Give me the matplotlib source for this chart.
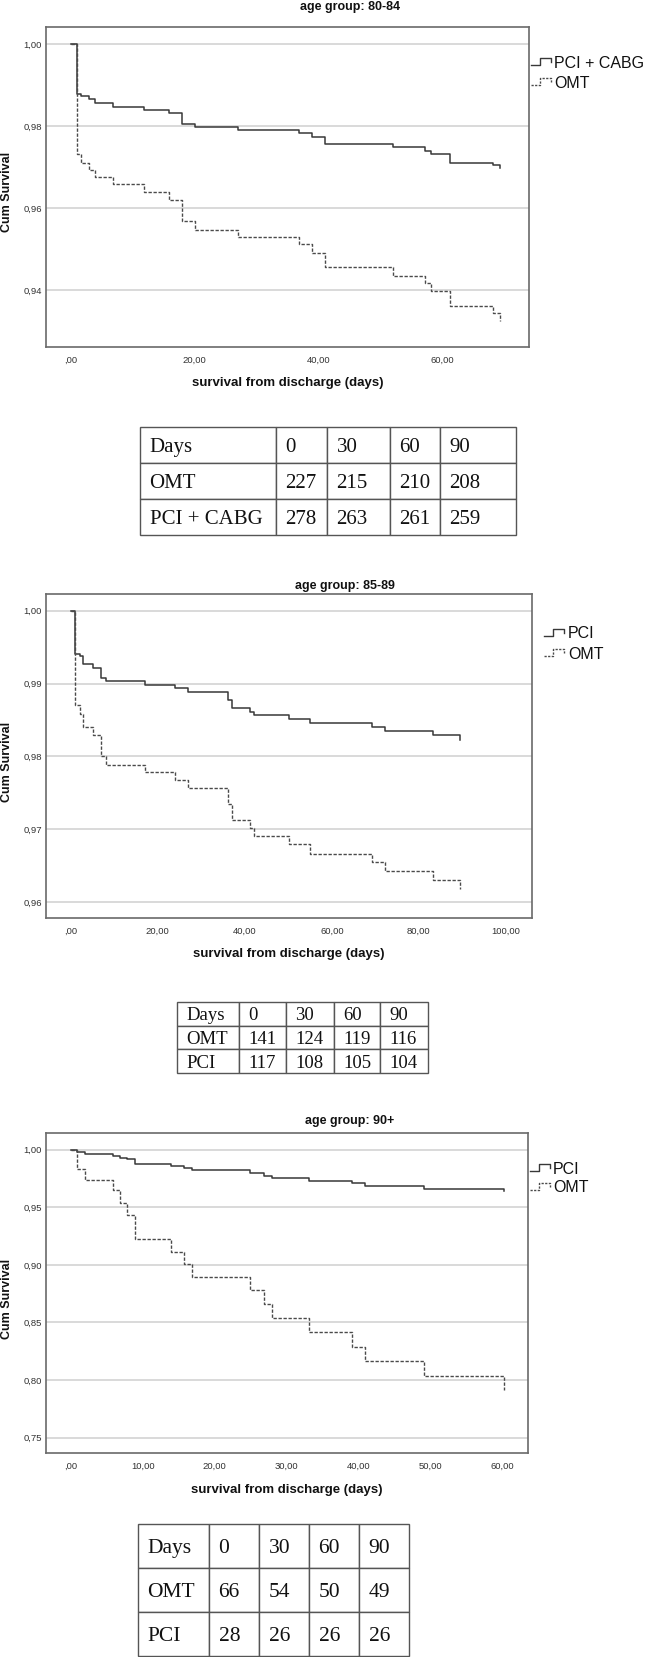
import numpy as np
import matplotlib
matplotlib.use("Agg")
import matplotlib.pyplot as plt
from matplotlib.lines import Line2D

W, H = 646, 1657

# ---- panel 1: age group 80-84 ----
p1_days = [0, 1.0, 1.7, 3.0, 3.9, 6.9, 11.9, 15.9, 17.9, 20.0, 27.0, 36.9, 38.9,
           41.1, 52.1, 57.2, 58.2, 61.2, 68.2, 69.3]
p1_pci = [1.0, 0.9879, 0.9872, 0.9865, 0.9855, 0.9847, 0.9840, 0.9831, 0.9806,
          0.9798, 0.9790, 0.9782, 0.9773, 0.9756, 0.9749, 0.9740, 0.9732, 0.9711,
          0.9705, 0.9697]
p1_omt = [1.0, 0.9731, 0.9711, 0.9694, 0.9676, 0.9659, 0.9640, 0.9621, 0.9569,
          0.9548, 0.9530, 0.9512, 0.9492, 0.9456, 0.9436, 0.9417, 0.9399, 0.9362,
          0.9344, 0.9325]

# ---- panel 2: age group 85-89 ----
p2_days = [0, 1.0, 2.0, 2.9, 5.0, 7.0, 8.1, 17.0, 24.0, 27.0, 36.2, 37.0, 41.2,
           42.1, 50.1, 55.0, 69.3, 72.3, 83.3, 89.4]
p2_pci = [1.0, 0.9941, 0.9938, 0.9927, 0.9921, 0.9908, 0.9903, 0.9898, 0.9894,
          0.9888, 0.9878, 0.9867, 0.9861, 0.9857, 0.9851, 0.9846, 0.9840, 0.9835,
          0.9829, 0.9823]
p2_omt = [1.0, 0.9870, 0.9858, 0.9840, 0.9830, 0.9800, 0.9788, 0.9778, 0.9767,
          0.9757, 0.9734, 0.9713, 0.9702, 0.9691, 0.9679, 0.9666, 0.9655, 0.9642,
          0.9630, 0.9618]

# ---- panel 3: age group 90+ ----
p3_days = [0, 0.9, 2.0, 5.9, 6.8, 7.8, 8.9, 13.9, 15.8, 16.8, 24.9, 26.9, 27.9,
           33.1, 39.1, 40.9, 49.1, 60.1]
p3_pci = [1.0, 0.9979, 0.9960, 0.9945, 0.9931, 0.9916, 0.9878, 0.9855, 0.9841,
          0.9821, 0.9797, 0.9775, 0.9754, 0.9728, 0.9710, 0.9683, 0.9660, 0.9645]
p3_omt = [1.0, 0.9829, 0.9740, 0.9647, 0.9540, 0.9436, 0.9222, 0.9112, 0.9005,
          0.8895, 0.8779, 0.8663, 0.8539, 0.8414, 0.8287, 0.8166, 0.8035, 0.7911]

# ---- numbers at risk tables ----
risk_header = ["Days", "0", "30", "60", "90"]
t1_omt = [227, 215, 210, 208]
t1_pci = [278, 263, 261, 259]
t2_omt = [141, 124, 119, 116]
t2_pci = [117, 108, 105, 104]
t3_omt = [66, 54, 50, 49]
t3_pci = [28, 26, 26, 26]

titles = ["age group: 80-84", "age group: 85-89", "age group: 90+"]
pci_names = ["PCI + CABG", "PCI", "PCI"]

SANS = "Liberation Sans"
SERIF = "Liberation Serif"
LINE_C = "#383838"


def fmt(v, pos=None):
    s = f"{v:.2f}".replace(".", ",")
    if abs(v) < 1e-9:
        s = ",00"
    return s


def fig_rect(left, top, right, bottom):
    return [left / W, 1 - bottom / H, (right - left) / W, (bottom - top) / H]


def draw_panel(fig, box, xlim, ylim, xticks, yticks, days, pci, omt):
    ax = fig.add_axes(fig_rect(*box))
    ax.step(days, pci, where="post", color=LINE_C, lw=1.1, zorder=3)
    ax.step(days, omt, where="post", color="#4a4a4a", lw=1.0,
            dashes=(2.4, 1.2), zorder=3)
    ax.set_xlim(*xlim)
    ax.set_ylim(*ylim)
    ax.set_xticks(xticks)
    ax.set_yticks(yticks)
    ax.xaxis.set_major_formatter(plt.FuncFormatter(fmt))
    ax.yaxis.set_major_formatter(plt.FuncFormatter(fmt))
    ax.tick_params(length=0, labelsize=6.8, labelcolor="#333333")
    ax.tick_params(axis="x", pad=6)
    ax.tick_params(axis="y", pad=3)
    for lab in ax.get_xticklabels() + ax.get_yticklabels():
        lab.set_fontfamily(SANS)
    ax.grid(axis="y", color="#cfcfcf", lw=1.1)
    ax.set_axisbelow(True)
    for sp in ax.spines.values():
        sp.set_color("#6a6a6a")
        sp.set_linewidth(1.2)
    return ax


def legend_glyph(fig, x0, yc, dashed):
    xs = [x0, x0 + 9, x0 + 9, x0 + 20, x0 + 20]
    ys = [yc + 1.5, yc + 1.5, yc - 5.5, yc - 5.5, yc - 1]
    kw = dict(color=LINE_C, lw=1.0)
    if dashed:
        kw.update(color="#4a4a4a", dashes=(1.6, 1.0))
    fig.add_artist(Line2D([x / W for x in xs], [1 - y / H for y in ys],
                          transform=fig.transFigure, **kw))


def draw_table(fig, cols, top, bottom, omt, pci, pci_label, fontsize):
    left, right = cols[0], cols[-1]
    ax = fig.add_axes(fig_rect(left, top, right, bottom))
    ax.axis("off")
    widths = np.diff(cols)
    rows = [risk_header,
            ["OMT"] + [str(v) for v in omt],
            [pci_label] + [str(v) for v in pci]]
    tbl = ax.table(cellText=rows, colWidths=list(widths / widths.sum()),
                   bbox=[0, 0, 1, 1], cellLoc="left")
    tbl.auto_set_font_size(False)
    for (r, c), cell in tbl.get_celld().items():
        cell.set_edgecolor("#555555")
        cell.set_linewidth(1.0)
        cell.PAD = 9.5 / widths[c]
        txt = cell.get_text()
        txt.set_fontsize(fontsize)
        txt.set_fontfamily(SERIF)
        txt.set_color("#111111")
        txt.set_va("center_baseline")
    return ax


fig = plt.figure(figsize=(W / 100, H / 100), dpi=100)

panels = [
    dict(box=(46, 27, 529, 347), xlim=(-4.0, 74.0), ylim=(0.9262, 1.0041),
         xticks=[0, 20, 40, 60], yticks=[0.94, 0.96, 0.98, 1.00],
         days=p1_days, pci=p1_pci, omt=p1_omt,
         title_xy=(350, 7), xlabel_xy=(288, 383), ylabel_y=192,
         leg=(531, 554, 63, 83)),
    dict(box=(46, 594, 532, 918), xlim=(-5.7, 106.0), ylim=(0.9578, 1.0023),
         xticks=[0, 20, 40, 60, 80, 100], yticks=[0.96, 0.97, 0.98, 0.99, 1.00],
         days=p2_days, pci=p2_pci, omt=p2_omt,
         title_xy=(345, 586), xlabel_xy=(289, 954), ylabel_y=762,
         leg=(544, 568, 634, 654)),
    dict(box=(46, 1133, 528, 1453), xlim=(-3.43, 63.5), ylim=(0.7367, 1.0145),
         xticks=[0, 10, 20, 30, 40, 50, 60],
         yticks=[0.75, 0.80, 0.85, 0.90, 0.95, 1.00],
         days=p3_days, pci=p3_pci, omt=p3_omt,
         title_xy=(350, 1121), xlabel_xy=(287, 1490), ylabel_y=1299,
         leg=(530, 553, 1169, 1188)),
]

for i, p in enumerate(panels):
    draw_panel(fig, p["box"], p["xlim"], p["ylim"], p["xticks"], p["yticks"],
               p["days"], p["pci"], p["omt"])
    tx, ty = p["title_xy"]
    fig.text(tx / W, 1 - ty / H, titles[i], ha="center", va="center",
             fontsize=9, fontweight="bold", family=SANS, color="#111111")
    lx, ly = p["xlabel_xy"]
    fig.text(lx / W, 1 - ly / H, "survival from discharge (days)", ha="center",
             va="center", fontsize=9.5, fontweight="bold", family=SANS,
             color="#111111")
    fig.text(0.5 / W, 1 - p["ylabel_y"] / H, "Cum Survival", ha="left",
             va="center", rotation=90, fontsize=9, fontweight="bold",
             family=SANS, color="#111111")
    gx, txt_x, y_pci, y_omt = p["leg"]
    legend_glyph(fig, gx, y_pci, dashed=False)
    legend_glyph(fig, gx, y_omt, dashed=True)
    fig.text(txt_x / W, 1 - y_pci / H, pci_names[i], ha="left", va="center",
             fontsize=11.5, family=SANS, color="#111111")
    fig.text(txt_x / W, 1 - y_omt / H, "OMT", ha="left", va="center",
             fontsize=11.5, family=SANS, color="#111111")

draw_table(fig, np.array([140, 276, 327, 390, 440, 516]), 427, 535,
           t1_omt, t1_pci, "PCI + CABG", 15)
draw_table(fig, np.array([177, 239, 286, 334, 380, 428]), 1002, 1073,
           t2_omt, t2_pci, "PCI", 13.5)
draw_table(fig, np.array([138, 209, 259, 309, 359, 409]), 1524, 1656,
           t3_omt, t3_pci, "PCI", 15.5)

fig.savefig("out.png", dpi=100)
